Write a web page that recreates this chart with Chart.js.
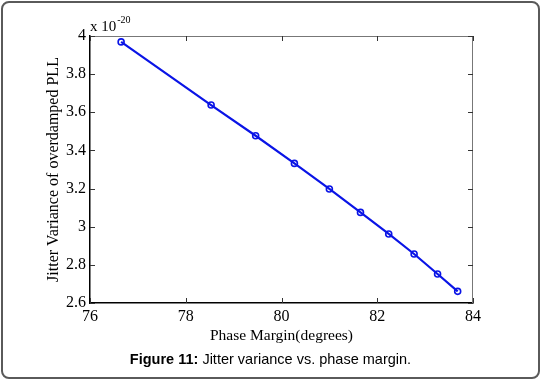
<!DOCTYPE html>
<html>
<head>
<meta charset="utf-8">
<script src="https://cdn.jsdelivr.net/npm/chart.js@4"></script>
<style>
  html, body { margin: 0; padding: 0; background: #fff; }
  #wrap { position: relative; width: 541px; height: 380px; overflow: hidden; }
  #frame { position: absolute; left: 1px; top: 1px; width: 535px; height: 374px; border: 2px solid #5a5a5a; border-radius: 8px; box-sizing: content-box; }
  canvas { position: absolute; left: 0; top: 0; }
  #caption { position: absolute; left: 0; width: 541px; top: 351px; text-align: center; font-family: "Liberation Sans", Arial, sans-serif; font-size: 14.5px; color: #000; }
</style>
</head>
<body>
<div id="wrap">
  <div id="frame"></div>
  <canvas id="c" width="541" height="380"></canvas>
  <div id="caption"><b>Figure 11:</b> Jitter variance vs. phase margin.</div>
</div>
<script>
const phaseMargin = [76.65, 78.53, 79.46, 80.27, 81.0, 81.65, 82.24, 82.77, 83.26, 83.68];
const jitterVar   = [3.969, 3.638, 3.477, 3.332, 3.198, 3.075, 2.962, 2.857, 2.752, 2.661];
const xTicks = [76, 78, 80, 82, 84];
const xTickLabels = ['76', '78', '80', '82', '84'];
const yTicks = [2.6, 2.8, 3.0, 3.2, 3.4, 3.6, 3.8, 4.0];
const yTickLabels = ['2.6', '2.8', '3', '3.2', '3.4', '3.6', '3.8', '4'];

const serif = '"Liberation Serif", "Times New Roman", serif';

const boxPlugin = {
  id: 'box',
  afterDraw(chart) {
    const ctx = chart.ctx, a = chart.chartArea;
    const xs = chart.scales.x, ys = chart.scales.y;
    ctx.save();
    ctx.strokeStyle = '#777';
    ctx.lineWidth = 1;
    ctx.beginPath();
    ctx.moveTo(a.left, a.top + 0.5); ctx.lineTo(a.right, a.top + 0.5);
    ctx.moveTo(a.right - 0.5, a.top); ctx.lineTo(a.right - 0.5, a.bottom);
    ctx.stroke();
    ctx.strokeStyle = '#333';
    const L = 5;
    ctx.beginPath();
    xTicks.forEach(v => {
      const px = Math.round(xs.getPixelForValue(v)) + 0.5;
      ctx.moveTo(px, a.bottom); ctx.lineTo(px, a.bottom - L);
      ctx.moveTo(px, a.top); ctx.lineTo(px, a.top + L);
    });
    yTicks.forEach(v => {
      const py = Math.round(ys.getPixelForValue(v)) + 0.5;
      ctx.moveTo(a.left, py); ctx.lineTo(a.left + L, py);
      ctx.moveTo(a.right, py); ctx.lineTo(a.right - L, py);
    });
    ctx.stroke();
    ctx.fillStyle = '#000';
    ctx.textBaseline = 'alphabetic';
    ctx.font = '15px ' + serif;
    ctx.fillText('x 10', a.left, a.top - 5);
    const w = ctx.measureText('x 10').width;
    ctx.font = '10px ' + serif;
    ctx.fillText('-20', a.left + w + 1, a.top - 13);
    ctx.restore();
  }
};

new Chart(document.getElementById('c'), {
  type: 'scatter',
  data: {
    datasets: [{
      data: phaseMargin.map((x, i) => ({ x: x, y: jitterVar[i] })),
      showLine: true,
      borderColor: '#0a14e6',
      borderWidth: 2.2,
      pointRadius: 3,
      pointBorderWidth: 1.6,
      pointBorderColor: '#0a14e6',
      pointBackgroundColor: 'rgba(255,255,255,0)',
      tension: 0
    }]
  },
  options: {
    responsive: false,
    animation: false,
    events: [],
    layout: { padding: { left: 44, right: 68, top: 36, bottom: 35 } },
    plugins: { legend: { display: false }, tooltip: { enabled: false } },
    scales: {
      x: {
        type: 'linear', min: 76, max: 84,
        afterBuildTicks: s => { s.ticks = xTicks.map(v => ({ value: v })); },
        afterFit: s => { s.height = 42; },
        ticks: { callback: (v, i) => xTickLabels[i], color: '#000', font: { family: serif, size: 16 }, padding: 4, maxRotation: 0 },
        grid: { drawOnChartArea: false, drawTicks: false },
        border: { display: true, color: '#000', width: 1.5 },
        title: { display: true, text: 'Phase Margin(degrees)', color: '#000', font: { family: serif, size: 15.5 }, padding: { top: 0, bottom: 0 } }
      },
      y: {
        type: 'linear', min: 2.6, max: 4,
        afterBuildTicks: s => { s.ticks = yTicks.map(v => ({ value: v })); },
        afterFit: s => { s.width = 46; },
        ticks: { callback: (v, i) => yTickLabels[i], color: '#000', font: { family: serif, size: 16 }, padding: 4 },
        grid: { drawOnChartArea: false, drawTicks: false },
        border: { display: true, color: '#000', width: 1.5 },
        title: { display: true, text: 'Jitter Variance of overdamped PLL', color: '#000', font: { family: serif, size: 16 }, padding: { top: 0, bottom: 0 } }
      }
    }
  },
  plugins: [boxPlugin]
});
</script>
</body>
</html>
